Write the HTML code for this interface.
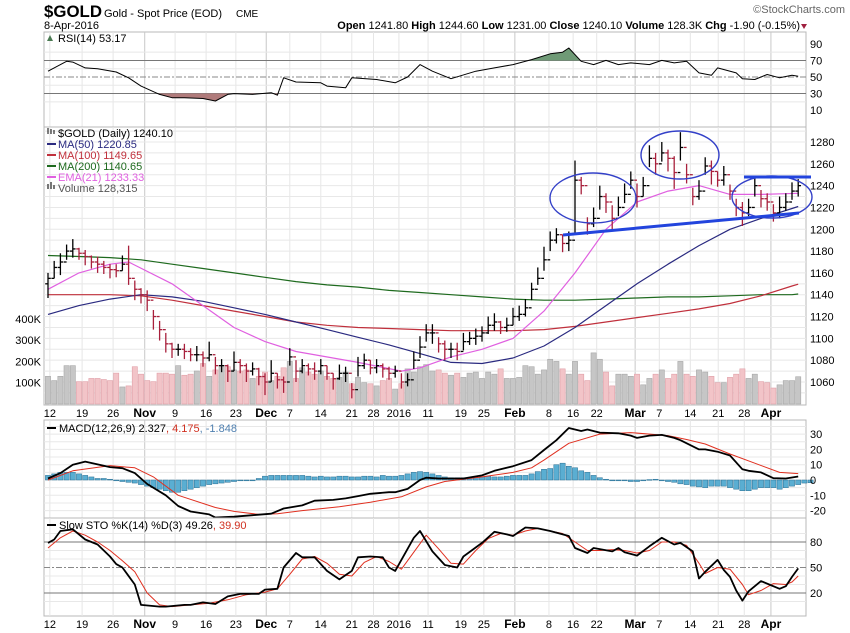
<!DOCTYPE html>
<html><head><meta charset="utf-8"><style>
body{margin:0;background:#fff;font-family:"Liberation Sans",sans-serif}
svg{display:block}
text{font-family:"Liberation Sans",sans-serif}
</style></head><body>
<svg id="c" width="850" height="633" viewBox="0 0 850 633"></svg>
<script>
const closes=[1155,1165,1170,1180,1182,1178,1175,1170,1168,1165,1163,1162,1168,1155,1145,1140,1135,1120,1108,1095,1090,1090,1088,1085,1085,1082,1085,1075,1075,1070,1078,1075,1070,1072,1065,1060,1068,1062,1060,1083,1070,1075,1072,1070,1075,1068,1063,1068,1068,1053,1075,1080,1073,1075,1072,1068,1070,1060,1062,1080,1092,1105,1105,1095,1090,1090,1088,1097,1100,1102,1105,1112,1115,1110,1112,1120,1122,1128,1145,1155,1172,1190,1195,1187,1190,1245,1240,1205,1210,1230,1225,1210,1220,1232,1245,1230,1240,1265,1260,1270,1265,1252,1275,1250,1230,1235,1258,1253,1245,1250,1235,1220,1215,1220,1240,1228,1225,1215,1220,1225,1235,1240];
const upR=[5,6,8,6,9,5,6,6,7,6,5,6,8,30,8,6,9,6,8,10,6,5,7,6,8,6,12,8,6,6,10,6,7,6,8,8,12,6,5,8,10,6,5,8,6,7,5,8,6,6,8,6,7,6,5,6,5,8,6,8,10,8,8,6,8,6,8,8,6,7,6,8,8,6,7,8,8,8,6,10,12,8,6,8,8,18,8,6,10,10,8,12,10,10,8,12,8,12,10,10,8,15,14,10,8,10,8,10,8,8,6,8,10,8,8,8,8,8,10,8,8,6];
const dnR=[18,10,12,8,8,6,8,6,8,6,8,6,6,6,10,8,10,12,10,8,8,6,7,6,6,8,6,8,6,10,8,7,10,6,8,12,8,8,10,8,10,7,6,8,8,6,10,6,8,8,10,8,6,7,8,6,6,6,6,8,10,8,10,8,10,8,8,8,6,8,8,8,8,6,6,8,6,8,10,6,10,10,8,8,10,50,8,10,8,12,10,10,8,8,8,10,10,8,10,8,12,15,12,8,8,8,8,12,6,10,8,8,12,8,10,8,8,8,10,8,8,10];
const volume=[130,110,130,180,180,105,105,120,120,115,110,145,80,85,175,140,110,105,145,145,140,180,135,140,155,190,130,160,175,175,160,155,160,120,130,150,110,130,170,200,120,170,150,140,155,130,120,125,150,95,125,100,95,85,110,120,70,95,165,150,175,185,155,160,145,135,145,125,145,150,120,150,140,165,120,120,125,180,175,140,160,210,200,165,140,200,140,110,240,210,150,85,140,140,130,140,90,120,140,160,120,140,200,140,130,160,150,130,100,100,125,140,165,120,140,105,100,75,90,110,110,128];
const maIdx=[0,5,10,15,20,25,30,35,40,45,50,55,60,65,70,75,80,85,90,95,100,105,110,115,120,121];
const ma50=[1122,1130,1136,1140,1138,1134,1128,1122,1115,1108,1101,1094,1086,1078,1077,1082,1093,1110,1130,1150,1168,1185,1200,1210,1219,1220.85];
const ma100=[1140,1140,1140,1139,1135,1130,1125,1120,1115,1112,1110,1109,1108,1107,1107,1107,1108,1111,1115,1119,1123,1127,1132,1139,1148,1149.65];
const ma200=[1176,1175,1174,1172,1168,1164,1160,1156,1152,1149,1147,1144,1142,1140,1138,1136,1135,1135,1136,1137,1138,1138,1139,1140,1140,1140.65];
const emaIdx=[0,5,10,13,20,25,30,35,40,50,57,60,65,70,75,80,85,90,95,100,105,110,115,121];
const ema21=[1145,1160,1168,1170,1150,1130,1110,1097,1088,1078,1070,1073,1083,1090,1100,1125,1160,1200,1225,1235,1240,1232,1232,1233];
const rsiIdx=[0,3,4,6,8,11,13,15,18,20,22,25,27,29,30,33,36,37,38,40,44,45,48,49,53,56,58,60,62,65,69,72,75,78,81,83,84,86,88,90,92,94,97,99,101,103,105,107,108,111,112,114,116,118,120,121];
const rsiVal=[57,69,68,61,60,56,49,39,29,25,25,24,21,29,30,29,31,28,49,44,43,39,37,49,47,43,50,65,57,48,57,61,65,71,78,80,85,69,65,70,65,67,65,70,67,69,55,52,61,55,48,47,53,49,52,51];
const macdIdx=[0,2,4,6,10,12,14,16,19,21,23,26,27,30,33,36,38,41,43,46,48,50,52,55,56,58,60,61,63,67,70,72,75,78,80,82,84,86,87,89,92,94,95,97,99,101,102,105,106,108,110,112,113,115,117,119,121];
const macdVal=[1,4.5,10,12,8.4,7.7,4.5,-2.6,-10,-17,-20.6,-22.5,-24.5,-24,-23,-22,-18.6,-16.6,-13.5,-13,-12,-10.5,-9,-8,-8,-5.8,0,1.5,1,1,3,6,9,13,19.6,26,34,32,33,31,30.5,29,27.5,29,29.5,27.5,26,20,20,18.5,16,7,6,5,1.2,1,2.3];
const sigIdx=[0,4,10,14,17,21,27,30,34,37,41,47,52,57,61,64,70,75,78,80,84,89,94,100,103,106,110,114,118,121];
const sigVal=[0,6,9.4,8,2,-10,-18,-20.5,-22.5,-22,-20,-17.5,-14.5,-11,-4.5,-1,2,5,8,13,24,30,31,29,26.5,23.5,17,11,5,4.2];
const hist=[3,4,5,5,5,4,3,2,1,1,0.5,0,-1,-1.5,-2,-3,-4,-5,-6,-7,-8,-8,-7,-6,-5,-4,-3,-2.5,-2,-1.5,-1,-0.5,-0.3,0,1,2.5,3,3,3,3,3,3,2.5,2,2.5,2,2,2.5,2.5,2,2,2.5,2.5,2,3,2.5,2.5,3,4,5,5.5,5,4,3,2,1.5,1.5,1.5,1.5,1.5,2,2.5,2,2,2.5,3,3,3,4,5.5,7,7.5,10,11,9,8,6,5,3,1.5,0.5,0,0,-0.5,-1,-1,-0.5,0.3,0.5,-0.5,-1,-1.5,-2.5,-3,-4,-4.5,-5,-4,-4,-4,-5,-6,-7,-7,-6,-5,-5,-5,-6,-5,-4,-3,-2,-1.8];
const kIdx=[0,1,2,4,6,8,10,11,12,14,15,18,19,22,23,25,27,29,31,34,35,37,38,40,41,43,45,47,49,50,52,54,55,56,59,60,62,64,66,67,70,72,74,75,77,79,81,84,85,87,88,91,92,93,95,97,99,101,102,104,105,106,108,109,110,111,112,113,115,118,119,120,121];
const kVal=[79,83,93,95,83,77,63,54,50,30,6,4,4,6,6,9,7,16,19,19,24,25,50,67,62,62,46,36,46,62,63,62,50,46,85,93,69,53,50,63,79,92,89,87,97,96,93,87,73,67,73,69,73,68,64,75,85,77,79,69,37,45,59,47,39,23,11,22,34,25,28,39,49];
const dIdx=[0,2,4,6,8,10,12,14,16,18,20,23,26,29,32,35,37,39,41,43,45,47,49,51,53,55,57,59,61,63,65,67,69,71,73,75,77,79,81,83,85,87,89,91,93,95,97,99,101,103,105,106,108,110,112,113,115,117,119,120,121];
const dVal=[73,85,93,88,80,70,58,45,20,6,4,6,8,12,18,21,25,42,60,63,55,42,40,56,63,57,48,68,88,72,55,54,70,84,90,88,93,96,93,90,80,70,70,71,70,67,70,80,80,76,55,43,50,48,30,18,23,31,30,33,40];
const xLabels=["12","19","26","Nov","9","16","23","Dec","7","14","21","28","2016","11","19","25","Feb","8","16","22","Mar","7","14","21","28","Apr"];
const xLabelIdx=[0.3,5.5,10.5,15.6,20.5,25.5,30.3,35.2,39,44,49,52.5,56.6,61.3,66.6,70.3,75.3,80.8,84.7,88.5,94.7,98.6,103.6,108.1,112.3,116.6];
const priceTicks=[1060,1080,1100,1120,1140,1160,1180,1200,1220,1240,1260,1280];
const volTicks=[100,200,300,400];
const rsiTicks=[10,30,50,70,90];
const macdTicks=[-20,-10,0,10,20,30];
const stoTicks=[20,50,80];

const NS="http://www.w3.org/2000/svg", svg=document.getElementById('c');
const L=44,R=806;
function el(t,a,p){const e=document.createElementNS(NS,t);for(const k in a)e.setAttribute(k,a[k]);(p||svg).appendChild(e);return e;}
const X=i=>48+i*6.2;
const yP=p=>142+(1280-p)*1.0909;
const yV=v=>404-v*0.213;
const yR=v=>118.4-v*0.828;
const yM=v=>480-v*1.53;
const yS=v=>610-v*0.85;
function txt(x,y,s,o,p){const t=el('text',Object.assign({x:x,y:y,'font-size':11,fill:'#000'},o||{}),p);t.textContent=s;return t;}
function line(idx,val,yf,color,w,name){let d='';idx.forEach((ix,k)=>{d+=(k?'L':'M')+X(ix).toFixed(1)+' '+yf(val[k]).toFixed(1);});const p=el('path',{d:d,fill:'none',stroke:color,'stroke-width':w,'stroke-linejoin':'round'});return p;}
function panel(y0,y1,name){const g=el('rect',{x:L,y:y0,width:R-L,height:y1-y0,fill:'#fff',stroke:'#b8b8b8'});
 xLabelIdx.forEach((ix,k)=>{const mon=isNaN(+xLabels[k]);el('line',{x1:X(ix),x2:X(ix),y1:y0,y2:y1,stroke:mon?'#c8c8c8':'#e6e6e6'});});}
function hgrid(y0,y1,vals,yf){vals.forEach(v=>{const y=yf(v);if(y>y0&&y<y1)el('line',{x1:L,x2:R,y1:y,y2:y,stroke:'#e8e8e8'});});}

// header
const h1=txt(44,17,'$GOLD',{'font-size':17,'font-weight':'bold',textLength:58,lengthAdjust:'spacingAndGlyphs'});

txt(104,17,'Gold - Spot Price (EOD)',{'font-size':11});txt(236,17,'CME',{'font-size':10});
txt(44,29,'8-Apr-2016',{'font-size':11});
const cr=txt(845,13,'©StockCharts.com',{'font-size':11,fill:'#666','text-anchor':'end'});

const q=txt(800,29,'',{'font-size':11,'text-anchor':'end'});
q.innerHTML='<tspan font-weight="bold">Open</tspan> 1241.80 <tspan font-weight="bold">High</tspan> 1244.60 <tspan font-weight="bold">Low</tspan> 1231.00 <tspan font-weight="bold">Close</tspan> 1240.10 <tspan font-weight="bold">Volume</tspan> 128.3K <tspan font-weight="bold">Chg</tspan> -1.90 (-0.15%)';

el('path',{d:'M801 24 L807 24 L804 29 Z',fill:'#a02040'});

// RSI panel
panel(32,127,'rsi-panel');hgrid(32,127,[20,40,60,80],yR);
el('line',{x1:L,x2:R,y1:yR(70),y2:yR(70),stroke:'#777'});el('line',{x1:L,x2:R,y1:yR(30),y2:yR(30),stroke:'#777'});
el('line',{x1:L,x2:R,y1:yR(50),y2:yR(50),stroke:'#888','stroke-dasharray':'6,2,2,2'});
let rd='';rsiIdx.forEach((ix,k)=>{rd+=(k?'L':'M')+X(ix).toFixed(1)+' '+yR(rsiVal[k]).toFixed(1);});
const defs=el('defs',{});
const c1=el('clipPath',{id:'above'},defs);el('rect',{x:L,y:0,width:R-L,height:yR(70)},c1);
const c2=el('clipPath',{id:'below'},defs);el('rect',{x:L,y:yR(30),width:R-L,height:40},c2);
el('path',{d:rd+'L'+X(121)+' '+yR(70)+'L'+X(0)+' '+yR(70)+'Z',fill:'#6f9a76',stroke:'none','clip-path':'url(#above)'});
el('path',{d:rd+'L'+X(121)+' '+yR(30)+'L'+X(0)+' '+yR(30)+'Z',fill:'#b07b7b',stroke:'none','clip-path':'url(#below)'});
line(rsiIdx,rsiVal,yR,'#000',1,'rsi-line');
rsiTicks.forEach(v=>txt(810,yR(v)+4,String(v),{'font-size':11}));
txt(58,42,'RSI(14) 53.17',{'font-size':11});el('path',{d:'M47 41 L50 35 L53 41 Z',fill:'#4a7a52'});

// price panel
panel(127,405,'price-panel');hgrid(127,405,[1050,1070,1090,1110,1130,1150,1170,1190,1210,1230,1250,1270,1290].concat(priceTicks),yP);
volume.forEach((v,i)=>{const up=i==0||closes[i]>=closes[i-1];const r=el('rect',{x:X(i)-2.6,y:yV(v),width:5.2,height:404-yV(v),fill:up?'#c6c6c6':'#f2c4c8',stroke:up?'#a8a8a8':'#e0a0a8','stroke-width':0.6});
 });
line(maIdx,ma200,yP,'#1e6a1e',1.2,'ma200-line');
line(maIdx,ma100,yP,'#c0303c',1.2,'ma100-line');
line(maIdx,ma50,yP,'#2a2a80',1.2,'ma50-line');
line(emaIdx,ema21,yP,'#e060e0',1.2,'ema21-line');
closes.forEach((c,i)=>{const o=i?closes[i-1]:c-5;const col=(i==0||c>=closes[i-1])?'#000':'#a8203c';const g=el('g',{stroke:col,'stroke-width':1.3});
 
 const x=X(i);el('line',{x1:x,x2:x,y1:yP(c+upR[i]),y2:yP(c-dnR[i])},g);el('line',{x1:x-2.8,x2:x,y1:yP(o),y2:yP(o)},g);el('line',{x1:x,x2:x+2.8,y1:yP(c),y2:yP(c)},g);});
priceTicks.forEach(v=>txt(810,yP(v)+4,String(v),{'font-size':11}));
volTicks.forEach(v=>txt(41,yV(v)+4,v+'K',{'font-size':11,'text-anchor':'end'}));
const leg=[['$GOLD (Daily) 1240.10','#000',null],['MA(50) 1220.85','#2a2a80','#2a2a80'],['MA(100) 1149.65','#c0303c','#c0303c'],['MA(200) 1140.65','#1e6a1e','#1e6a1e'],['EMA(21) 1233.33','#e060e0','#e060e0'],['Volume 128,315','#555',null]];
leg.forEach((l,k)=>{const y=137+k*11;const t=txt(58,y,l[0],{'font-size':11,fill:l[1]});
 if(l[2])el('line',{x1:47,x2:56,y1:y-4,y2:y-4,stroke:l[2],'stroke-width':2});});
el('path',{d:'M48 134 V128 M51 134 V129 M54 134 V130',stroke:'#000'});el('path',{d:'M47 189 h2 v-5 h-2z M50 189 h2 v-7 h-2z M53 189 h2 v-4 h-2z',fill:'#777'});
// annotations
const ann=el('g',{fill:'none',stroke:'#3340c8','stroke-width':1.4});
el('ellipse',{cx:593,cy:198,rx:43,ry:25},ann);el('ellipse',{cx:680,cy:155,rx:39,ry:24},ann);el('ellipse',{cx:772,cy:197,rx:40,ry:21},ann);
el('line',{x1:563,y1:235,x2:799,y2:213,stroke:'#2244dd','stroke-width':3},ann);el('line',{x1:744,y1:177,x2:811,y2:177,stroke:'#2244dd','stroke-width':3},ann);

function xaxis(y){xLabels.forEach((s,k)=>{const mon=isNaN(+s);const t=txt(X(xLabelIdx[k]),y,s,{'font-size':mon?12:11,'font-weight':mon?'bold':'normal','text-anchor':'middle'});});}
xaxis(417);

// MACD
panel(420,518,'macd-panel');hgrid(420,518,[-25,-15,-5,5,15,25,35].concat(macdTicks),yM);
hist.forEach((v,i)=>{const y0=yM(0),y1=yM(v);const r=el('rect',{x:X(i)-2.6,y:Math.min(y0,y1),width:5.2,height:Math.max(0.8,Math.abs(y1-y0)),fill:'#5aaed2',stroke:'#2a6e92','stroke-width':0.5});
 });
line(sigIdx,sigVal,yM,'#e03020',1,'macd-signal-line');
line(macdIdx,macdVal,yM,'#000',1.8,'macd-line');
macdTicks.forEach(v=>txt(810,yM(v)+4,String(v),{'font-size':11}));
el('line',{x1:47,x2:56,y1:428,y2:428,stroke:'#000','stroke-width':2});
const ml=txt(59,432,'',{'font-size':11});ml.innerHTML='MACD(12,26,9) 2.327<tspan fill="#d03020">, 4.175</tspan><tspan fill="#5080b0">, -1.848</tspan>';

// STO
panel(518,616,'stochastic-panel');hgrid(518,616,[10,30,40,60,70,90],yS);
el('line',{x1:L,x2:R,y1:yS(80),y2:yS(80),stroke:'#777'});el('line',{x1:L,x2:R,y1:yS(20),y2:yS(20),stroke:'#777'});
el('line',{x1:L,x2:R,y1:yS(50),y2:yS(50),stroke:'#888','stroke-dasharray':'6,2,2,2'});
line(dIdx,dVal,yS,'#e03020',1,'sto-d-line');
line(kIdx,kVal,yS,'#000',1.8,'sto-k-line');
stoTicks.forEach(v=>txt(810,yS(v)+4,String(v),{'font-size':11}));
el('line',{x1:47,x2:56,y1:525,y2:525,stroke:'#000','stroke-width':2});
const sl=txt(59,529,'',{'font-size':11});sl.innerHTML='Slow STO %K(14) %D(3) 49.26<tspan fill="#d03020">, 39.90</tspan>';
xaxis(628);
</script>
</body></html>
